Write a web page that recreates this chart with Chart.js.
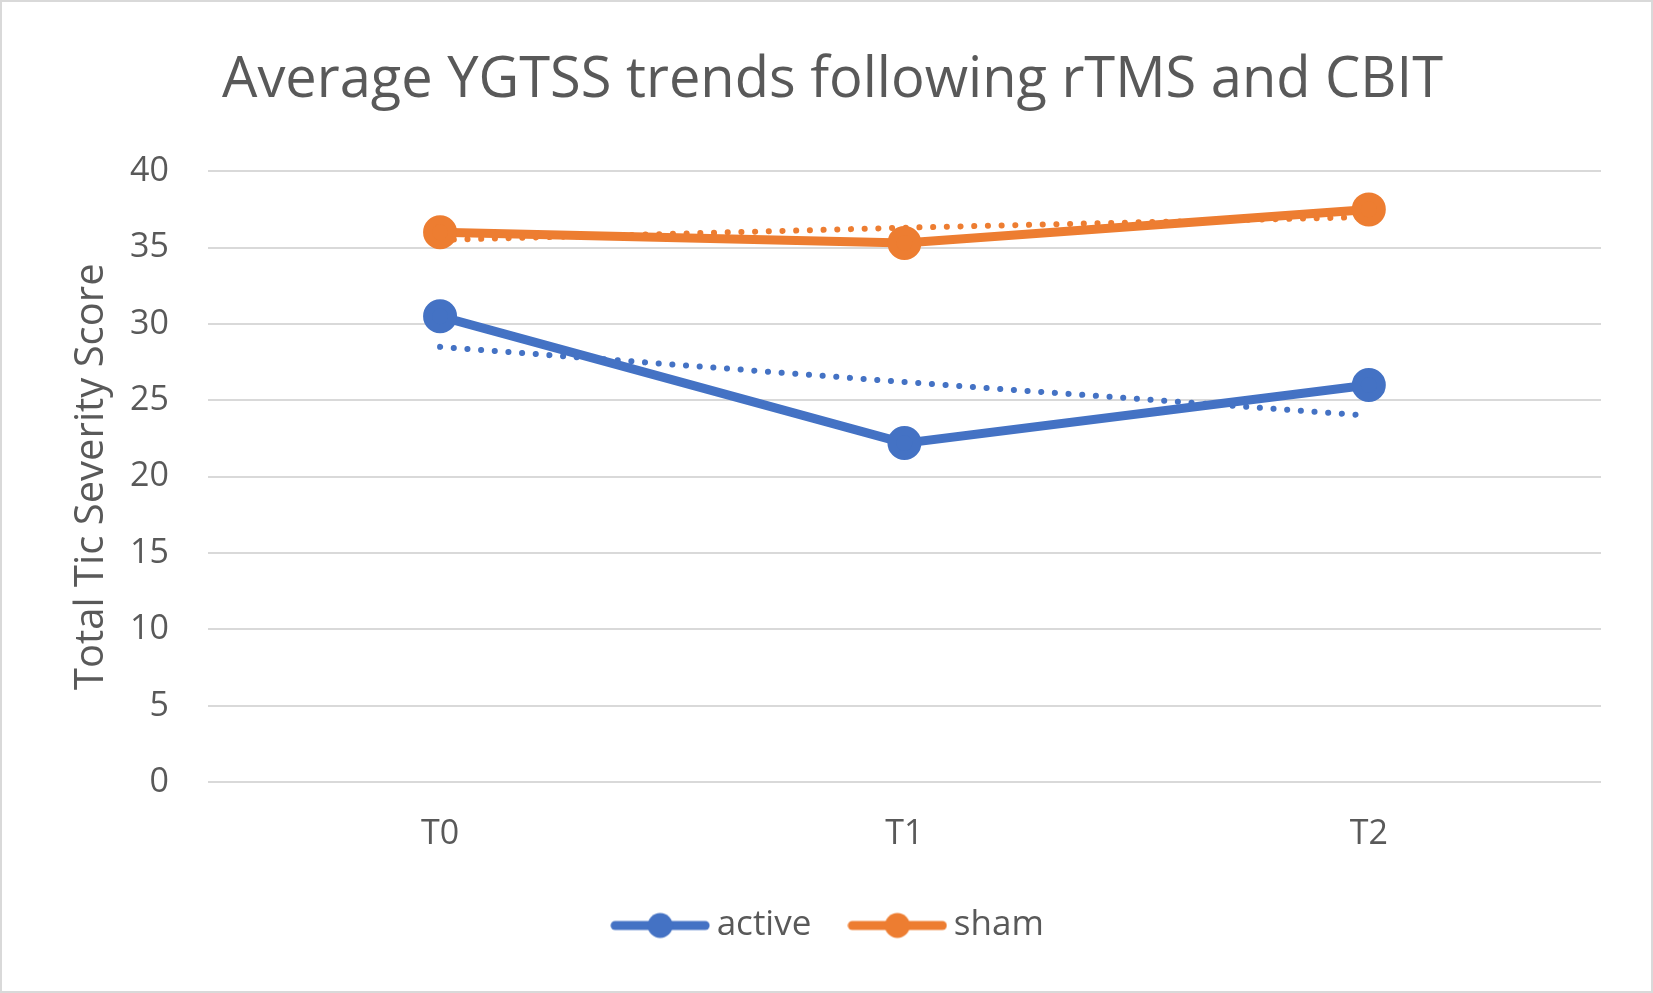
<!DOCTYPE html>
<html>
<head>
<meta charset="utf-8">
<script src="https://cdn.jsdelivr.net/npm/chart.js@4"></script>
<style>
  html, body { margin: 0; padding: 0; background: #fff; }
  #wrap { width: 1653px; height: 993px; box-sizing: border-box; border: 2px solid #d9d9d9; }
</style>
</head>
<body>
<div id="wrap"><canvas id="diagram"></canvas></div>
<script>
// Data
const timepoints = ['T0', 'T1', 'T2'];
const activeScores = [30.5, 22.2, 26.0];
const shamScores = [36.0, 35.3, 37.5];
// linear trendlines (dotted)
const activeTrend = [28.5, 26.2, 24.0];
const shamTrend = [35.5, 36.3, 37.0];
const yTicks = [0, 5, 10, 15, 20, 25, 30, 35, 40];

const blue = '#4472c4';
const orange = '#ed7d31';
const grey = '#595959';
const font = "'Open Sans', 'Noto Sans', sans-serif";

// legend symbol: line with a dot in the middle
function legendIcon(color) {
    const c = document.createElement('canvas');
    c.width = 100; c.height = 28;
    const g = c.getContext('2d');
    g.strokeStyle = color;
    g.lineWidth = 9;
    g.lineCap = 'round';
    g.beginPath();
    g.moveTo(5, 14); g.lineTo(95, 14);
    g.stroke();
    g.fillStyle = color;
    g.beginPath();
    g.arc(50, 14, 12.5, 0, Math.PI * 2);
    g.fill();
    return c;
}
const icons = { active: legendIcon(blue), sham: legendIcon(orange) };

const ctx = document.getElementById('diagram').getContext('2d');
new Chart(ctx, {
    type: 'line',
    data: {
        labels: timepoints,
        datasets: [
            {
                label: 'active',
                data: activeScores,
                borderColor: blue,
                backgroundColor: blue,
                borderWidth: 9,
                pointRadius: 12.5,
                pointHoverRadius: 12.5,
                order: 1
            },
            {
                label: 'sham',
                data: shamScores,
                borderColor: orange,
                backgroundColor: orange,
                borderWidth: 9,
                pointRadius: 12.5,
                pointHoverRadius: 12.5,
                order: 1
            },
            {
                label: 'active trend',
                data: activeTrend,
                borderColor: blue,
                borderWidth: 6,
                borderDash: [0.1, 13.6],
                borderCapStyle: 'round',
                pointRadius: 0,
                order: 2
            },
            {
                label: 'sham trend',
                data: shamTrend,
                borderColor: orange,
                borderWidth: 6,
                borderDash: [0.1, 13.6],
                borderCapStyle: 'round',
                pointRadius: 0,
                order: 2
            }
        ]
    },
    options: {
        responsive: true,
        maintainAspectRatio: false,
        animation: false,
        layout: { padding: { left: 62, right: 50, top: 30, bottom: 38 } },
        plugins: {
            title: {
                display: true,
                text: 'Average YGTSS trends following rTMS and CBIT',
                color: grey,
                font: { family: font, size: 56, weight: 'normal' },
                padding: { top: 15, bottom: 57 }
            },
            legend: {
                position: 'bottom',
                labels: {
                    usePointStyle: true,
                    pointStyleWidth: 78,
                    boxHeight: 28,
                    color: grey,
                    font: { family: font, size: 35 },
                    padding: 47,
                    generateLabels: chart => chart.data.datasets
                        .filter(ds => icons[ds.label])
                        .map((ds, i) => ({
                            text: ds.label,
                            pointStyle: icons[ds.label],
                            fillStyle: ds.borderColor,
                            strokeStyle: ds.borderColor,
                            lineWidth: 0,
                            fontColor: grey,
                            datasetIndex: i
                        }))
                }
            },
            tooltip: { enabled: false }
        },
        scales: {
            x: {
                offset: true,
                grid: { display: false },
                border: { display: false },
                ticks: { color: grey, font: { family: font, size: 34 }, padding: 24 },
                afterFit: axis => { axis.height -= 18; }
            },
            y: {
                min: 0,
                max: 40,
                afterBuildTicks: axis => { axis.ticks = yTicks.map(v => ({ value: v })); },
                grid: { color: '#d9d9d9', lineWidth: 2, drawTicks: false },
                border: { display: false },
                ticks: { color: grey, font: { family: font, size: 34 }, padding: 39 },
                title: {
                    display: true,
                    text: 'Total Tic Severity Score',
                    color: grey,
                    font: { family: font, size: 40 },
                    padding: { top: 4, bottom: 16 }
                },
                afterFit: axis => { axis.width -= 41; }
            }
        }
    }
});
</script>
</body>
</html>
